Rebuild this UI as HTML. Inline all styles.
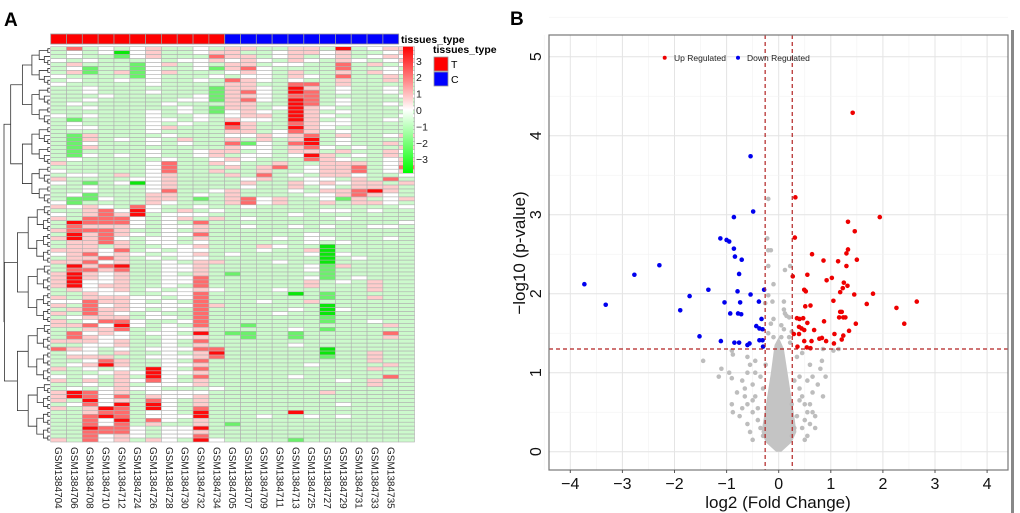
<!DOCTYPE html>
<html><head><meta charset="utf-8"><style>
html,body{margin:0;padding:0;background:#fff;}
svg{display:block;font-family:"Liberation Sans",Arial,sans-serif;}
</style></head><body>
<svg id="fig" width="1020" height="513" viewBox="0 0 1020 513" xmlns="http://www.w3.org/2000/svg">
<text x="4" y="26" font-size="19" font-weight="bold">A</text>
<text x="510" y="25" font-size="19" font-weight="bold">B</text>
<g id="heat"></g>
<g id="volc"></g>
<rect x="1011" y="30" width="3" height="483" fill="#888"/>
</svg>
<script>
const samples = ["GSM1384704","GSM1384706","GSM1384708","GSM1384710","GSM1384712","GSM1384724","GSM1384726","GSM1384728","GSM1384730","GSM1384732","GSM1384734","GSM1384705","GSM1384707","GSM1384709","GSM1384711","GSM1384713","GSM1384725","GSM1384727","GSM1384729","GSM1384731","GSM1384733","GSM1384735"];
const tissueTypes = ["T","T","T","T","T","T","T","T","T","T","T","C","C","C","C","C","C","C","C","C","C","C"];
const colorTicks = [3,2,1,0,-1,-2,-3];
const heatRows = [
"hrhwhwphhwh|pphhpphRhwpp","hwhwGwphhwp|phhwppwphhwp","hwhhgwphhhr|pphwphwphwpw","whwhhhwhwwp|wpwhpwhpwhwp",
"hphhhgwphwh|pphwwhhrhphw","hwghhgwhhwg|prwhhhhrhhwh","hpghpgwphhh|wpwhphhphpww","whhhhgwhhhw|hwwhpwhrhhph",
"hwhhwhwhhwh|rpwhwhhphhph","whhhhhwhhhh|pphhrrhphhhh","hhwhhhhhhhg|ppwhRphwhhwh","hhwhhhwhhhg|prwhRrhwhhwh",
"hhhwhhhhhwg|ppwhrrhhhhhw","hhwhhhhhwwg|prwhRrhwhhhh","hwhhhhhwhhh|pphhRrhwhhwh","hhwhhhhhwhg|pphwRpwhhhhw",
"hhhhhhwhwhg|wpwhRphwhhhh","whwhhhwhhwh|wpphRpwhhhhw","hghhhhwwhwh|pwwhRphwhhwh","hwhhhhwhwhh|Rphhrpwwhhhh",
"hwwhhhwphhh|rphhRpwhhhhh","hhhhhhwhhhh|pphwrphwhhhh","hgphhhhwhhh|wwpwprhphhwp","hgphwhwhphh|phphpRhwhhhh",
"hgwhhhwhwhh|rgwhrRhwhhph","hgphhhhhhhh|pwwhprwhwhhp","hghhhhwhhwp|phwhpphphhpw","hgwhwhwhhwp|hwwhwRphwhph",
"hwhhhhhwhhw|pwhhhrpwhhwp","phhhhhwrhhp|whhphhppphwp","hhhhhhwrhhh|phprhwpprhwr","whhhhhwrhhp|hhphhwpprhwp",
"hwwhphwphhh|phrhwhppwhhw","phhhhwwphhh|hwphhwwhphrh","whghwGwphhh|hphhpwpwpphp","hhwhhhwphhh|hwhhphwhppph",
"hhwhhhwrhhw|phhhwhpprRph","hwghhhpphwh|phhhhwwprpwh","hggwhhpphgh|prwphhwgphwp","wghhhhpwhhh|prwphhphppwh",
"pwpwhrwhhwh|hwhhhhhhhhhw","hhprwRwhphw|hhhhhhwwhwhh","whprpRhwwwh|hhhhwhhhhhhh","phrrrwhwphp|hwhhhhhwhhhh",
"hRrrrwhwhrh|hhhhhhhhhhhw","hrpppwhwwph|hwhhwhwhhwwh","prrrphhwhph|hhhhhhhhhhhh","hRprpwhwwrh|hhhhhwhhhhhh",
"pRprwhwwhph|hhhwhwwhhhwh","hpprphwwhwh|hhhhhwhwhhhh","hpphphhwwph|hhpwhhGhhhhh","pppwrhwhwwh|hhwhhpGhhhhh",
"wprwpwhwwph|whhhhwGwhhhh","hpprphwhwwh|hhhhhhGhwhhh","pprwphhwhpp|hhhwhhGhhhhh","hRprRhhwwph|hhhhhwgphhhh",
"hrrprhhwwph|hhhhhwghhhhh","pRpwphhwhph|ghhhhhghhhhh","pRpwphhwwrh|hhhhhwghwhhh","pRwwphhwwrh|hhhhhphwhphh",
"pRwpphhwhrh|hhhhhphhhphh","hpwwphwhwpw|hhhwhhhhhphh","hhpwwhhwwrh|hhhhGhghhhhh","phpppwwhwrh|hhhhhhghhphh",
"wwrppwhwhrh|hhwhhphhhhhh","phrwpwwwwrp|hhhhhhGhhhhh","hprppwhwhrh|hhhhwhGwhhhh","phrpwhwhhrh|hhhwhhGhhhhh",
"hwppphwwhrh|hhhhhhghhhhh","phwrrwhhwrh|hhhhhhghhwhh","pprwRwhwhrh|hghhhhhhhhph","hhpprhhwwph|hhhhwhghhhhh",
"hrwpwhwwhRh|gghhghhhhhrh","hrpwwhhwwph|hghhghhhhhph","pppwphhwhrh|hhhhhhhhhhhh","hhwwphhwhph|hhhhwhhhhhhh",
"rpwhwhwwwrr|hhhhhhGhhhhh","hwwhphhwhpR|hhhhhhGhhphh","hppphhwwwpr|hhhhhhghhphh","hhwrphhwhrh|hhhhhhhhhphh",
"hwpRphhwwph|hhhhhwhhhhph","phwhwhRwhrh|hhhhhhhhhphh","hhhwpwRwwph|hhhhhhhhhhhh","whwhphRwhrh|hhhhwhhhhhrh",
"phphpwrwhph|hhhhhhhwhphh","hhwhphwwwph|hhhhhhhhhphh","hwhwpwwhhhw|hhhhhhhhhhhh","pRrwphwwwwh|hhhhhhphhhhh",
"pRrwrhpwwph|hhhhhhhhhhhh","phRwphrwhph|hhhhhhhhhhhh","hwrwRhRwhph|hhhhhhhwhhhh","phpRrhRwhrh|hhhhhhhhhhhh",
"hhprrhwwhRh|hhhhRhhhhhhh","hhrRrhwwwRh|hhwhhwhwhhhh","hhrwRhrwhph|hhhhhhhhhhhh","hhrwrhphhph|ghhhhhhhhhhh",
"hhRrrwhwwRh|hhhhhhhhhhhh","hhrrrwhwwph|hhhhhhhhhhhh","hhrwpwhwwrh|hhhhhhhhhhhh","phrwphpwhRw|hhhhghhhhhhh"];
const levelCode = {G:-3,g:-2,h:-1,w:0,p:1,r:2,R:3};

const upX = [1.42,0.32,0.31,1.33,1.94,1.46,1.33,1.30,1.50,0.64,0.86,1.14,1.30,0.27,0.55,1.02,0.92,1.25,1.32,1.23,1.18,0.49,0.52,1.45,1.81,2.65,1.05,1.69,0.61,0.51,2.26,1.18,1.21,1.16,1.24,1.28,0.35,0.40,0.47,0.87,0.55,1.48,2.41,0.39,0.44,0.49,0.68,1.35,0.29,0.39,1.07,1.24,0.78,0.83,1.21,0.49,0.63,0.91,1.06,0.36,0.54,0.61];
const upY = [4.29,3.22,2.71,2.91,2.97,2.79,2.56,2.51,2.43,2.50,2.42,2.41,2.35,2.22,2.24,2.20,2.17,2.14,2.10,2.07,2.02,2.05,2.03,1.99,2.00,1.90,1.91,1.87,1.85,1.84,1.82,1.77,1.77,1.70,1.70,1.70,1.69,1.68,1.69,1.65,1.63,1.62,1.62,1.58,1.56,1.54,1.54,1.53,1.49,1.49,1.49,1.47,1.43,1.44,1.42,1.40,1.40,1.40,1.37,1.33,1.32,1.31];
const downX = [-3.73,-3.32,-2.77,-2.29,-1.89,-1.71,-1.52,-1.35,-1.12,-1.11,-1.04,-1.00,-0.95,-0.93,-0.86,-0.86,-0.85,-0.84,-0.79,-0.78,-0.76,-0.76,-0.74,-0.72,-0.71,-0.60,-0.56,-0.54,-0.54,-0.49,-0.43,-0.38,-0.37,-0.37,-0.33,-0.31,-0.31,-0.30,-0.28];
const downY = [2.12,1.86,2.24,2.36,1.79,1.97,1.46,2.05,2.70,1.40,1.89,2.68,2.66,1.75,2.97,2.57,1.38,2.47,2.03,1.75,2.25,1.38,1.89,1.74,2.43,1.35,1.37,1.99,3.74,3.04,1.59,1.90,1.56,1.41,1.68,1.55,1.41,1.33,2.05];
const nsX = [-0.2,-0.22,-0.2,-0.15,-0.2,0.12,0.22,-0.1,-0.2,-0.12,-0.26,0.1,0.1,0.12,0.15,0.2,-0.1,-0.15,0.05,0.1,0.25,-0.2,-0.1,0.05,0.2,0.22,-0.9,-0.88,-1.45,-1.1,-1.15,-0.95,-0.9,-0.6,-0.55,-0.6,-0.7,-0.8,-0.9,-0.88,-0.7,-0.6,-0.5,-0.45,-0.5,-0.35,-0.4,-0.35,-0.3,0.85,1.05,1.15,0.83,0.8,0.9,0.85,0.75,0.6,0.55,0.65,0.6,0.55,0.65,0.5,0.45,0.4,0.35,0.45,0.3,0.25,-0.25,-0.3,0.3,0.25,-0.6,0.45,-0.65,-0.5,-0.45,-0.55,-0.4,-0.5,0.5,0.55,0.6,0.7,0.5,0.35,0.4,-0.75,-0.65,0.7,0.65,0.4,-0.45];
const nsY = [3.2,2.7,2.55,2.55,2.35,2.3,2.35,2.12,1.98,1.9,1.88,1.9,1.8,1.75,1.72,1.7,1.68,1.62,1.6,1.55,1.52,1.5,1.45,1.45,1.45,1.38,1.28,1.23,1.15,1.05,0.95,1.0,0.93,1.2,1.1,1.0,0.9,0.75,0.6,0.5,0.55,0.6,0.5,0.7,0.85,0.95,0.4,0.3,0.2,1.3,1.28,1.3,1.15,1.05,0.95,0.7,0.85,1.1,0.9,0.75,0.6,0.5,0.5,0.4,0.7,0.95,1.2,1.25,0.3,0.2,1.1,0.8,0.9,0.6,0.35,0.3,0.8,0.65,1.0,0.25,0.55,0.15,0.15,0.2,0.35,0.45,0.6,0.45,0.65,0.45,0.7,0.3,0.95,0.8,1.15];
const coreX = [-0.05,0.05,0.25,0.34,0.3,0.24,0.17,0.1,0.0,-0.08,-0.15,-0.22,-0.28,-0.33,-0.25];
const coreY = [0,0,0.12,0.25,0.45,0.7,1.0,1.3,1.45,1.35,1.0,0.7,0.45,0.25,0.12];
const xTicks = [-4,-3,-2,-1,0,1,2,3,4];
const yTicks = [0,1,2,3,4,5];
const fcCut = 0.26, pCut = 1.3;

const NS = "http://www.w3.org/2000/svg";
function mk(tag, attrs, parent){const e=document.createElementNS(NS,tag);for(const k in attrs)e.setAttribute(k,attrs[k]);parent.appendChild(e);return e;}

const heat = document.getElementById('heat');
const hx0=50.7, hx1=398.7, hy0=46.7, hy1=442;
const cw=(hx1-hx0)/samples.length, rh=(hy1-hy0)/heatRows.length;
function heatColor(v){
 const a=Math.abs(v), t=Math.min(1, a<=1 ? a*0.2 : 0.2+(a-1)*0.38);
 const c=Math.round(255-t*255);
 if(v>=0) return `rgb(255,${c},${c})`;
 return `rgb(${c},${Math.round(255-t*25)},${c})`;
}
tissueTypes.forEach((t,i)=>{
 const r=mk('rect',{x:hx0+i*cw,y:34,width:cw,height:10,fill:t==='T'?'#ff0000':'#0000ff',stroke:'#999','stroke-width':0.8},heat);
 
 
});
heatRows.forEach((row,ri)=>{
 const s=row.replace('|','');
 for(let ci=0;ci<s.length;ci++){
  const r=mk('rect',{x:hx0+ci*cw,y:hy0+ri*rh,width:cw,height:rh,fill:heatColor(levelCode[s[ci]]),stroke:'#b0b0b0','stroke-width':0.6},heat);
  
  
 }
});
samples.forEach((s,i)=>{
 const cx=hx0+(i+0.5)*cw-3.5;
 const t=mk('text',{x:cx,y:447,'font-size':10,fill:'#222',transform:`rotate(90 ${cx} 447)`},heat);
 t.textContent=s;
 
 
});
function dendro(a,b){
 if(b-a===1) return {y:hy0+(a+0.5)*rh,x:50};
 let m = (a===0&&b===heatRows.length)?40:Math.floor((a+b)/2);
 const L=dendro(a,m), R=dendro(m,b);
 const x=Math.max(4, Math.min(L.x,R.x)-Math.max(2,Math.log2(b-a)*2.2));
 mk('path',{d:`M${L.x},${L.y}H${x}V${R.y}H${R.x}`,fill:'none',stroke:'#333','stroke-width':0.8},heat);
 return {y:(L.y+R.y)/2,x:x};
}
dendro(0,heatRows.length);
const cb=mk('g',{},heat);


const grad=mk('linearGradient',{id:'cbg',x1:0,y1:0,x2:0,y2:1},mk('defs',{},cb));
[['0','#ff0000'],['0.5','#ffffff'],['1','#00ff00']].forEach(s=>mk('stop',{offset:s[0],'stop-color':s[1]},grad));
mk('rect',{x:403,y:46.7,width:10,height:126.3,fill:'url(#cbg)'},cb);
colorTicks.forEach(v=>{
 const y=110-v*16.4;
 const t=mk('text',{x:416,y:y+4,'font-size':10.5,fill:'#222'},cb);
 t.textContent=v<0?'\u2212'+(-v):String(v);
 
 
});
const tt1=mk('text',{x:401,y:43,'font-size':10.5,'font-weight':'bold'},heat);tt1.textContent='tissues_type';


const tt2=mk('text',{x:433,y:53,'font-size':10.5,'font-weight':'bold'},heat);tt2.textContent='tissues_type';


[['T','#ff0000',57],['C','#0000ff',72]].forEach(l=>{
 const r=mk('rect',{x:434,y:l[2],width:14,height:14,fill:l[1],stroke:'#999','stroke-width':0.8},heat);
 
 
 const t=mk('text',{x:451,y:l[2]+11,'font-size':10.5},heat);t.textContent=l[0];
 
 
});

const volc=document.getElementById('volc');
const xS=v=>778.7+v*52.1, yS=v=>451.7-v*79;
const px0=549,px1=1008,py0=35,py1=470;
mk('rect',{x:px0,y:py0,width:px1-px0,height:py1-py0,fill:'#fff'},volc);
for(let v=-4.5;v<=4.5;v+=0.5){const maj=Number.isInteger(v);mk('line',{x1:xS(v),x2:xS(v),y1:py0,y2:py1,stroke:maj?'#e4e4e4':'#f2f2f2','stroke-width':maj?1:0.6},volc);}
for(let v=0;v<=5.5;v+=0.5){const maj=Number.isInteger(v);mk('line',{x1:px0,x2:px1,y1:yS(v),y2:yS(v),stroke:maj?'#e4e4e4':'#f2f2f2','stroke-width':maj?1:0.6},volc);}
const core=mk('polygon',{points:coreX.map((x,i)=>xS(x)+','+yS(coreY[i])).join(' '),fill:'#c4c4c4'},volc);


function pts(X,Y,col,name){X.forEach((x,i)=>{const c=mk('circle',{cx:xS(x),cy:yS(Y[i]),r:2.3,fill:col},volc);
 
 });}
pts(nsX,nsY,'#bdbdbd','ns-point');
pts(downX,downY,'#0000ee','down-point');
pts(upX,upY,'#ee0000','up-point');
[-fcCut,fcCut].forEach(v=>{const l=mk('line',{x1:xS(v),x2:xS(v),y1:py0,y2:py1,stroke:'#b22222','stroke-width':1.2,'stroke-dasharray':'4,3'},volc);
 
 });
const hl=mk('line',{x1:px0,x2:px1,y1:yS(pCut),y2:yS(pCut),stroke:'#b22222','stroke-width':1.2,'stroke-dasharray':'4,3'},volc);


mk('rect',{x:px0,y:py0,width:px1-px0,height:py1-py0,fill:'none',stroke:'#777','stroke-width':1.2},volc);
xTicks.forEach(v=>{mk('line',{x1:xS(v),x2:xS(v),y1:py1,y2:py1+3,stroke:'#555'},volc);
 const t=mk('text',{x:xS(v),y:489,'font-size':16,'text-anchor':'middle',fill:'#111'},volc);
 t.textContent=v<0?'\u2212'+(-v):String(v);
 
 });
yTicks.forEach(v=>{const x=541,y=yS(v);
 const t=mk('text',{x:x,y:y,'font-size':16,'text-anchor':'middle',fill:'#111',transform:`rotate(-90 ${x} ${y})`},volc);
 t.textContent=String(v);
 
 });
const xt=mk('text',{x:778,y:508,'font-size':17,'text-anchor':'middle',fill:'#111'},volc);xt.textContent='log2 (Fold Change)';


const yt=mk('text',{x:525,y:253,'font-size':17,'text-anchor':'middle',fill:'#111',transform:'rotate(-90 525 253)'},volc);yt.textContent='\u2212log10 (p-value)';


const lg=mk('g',{},volc);


mk('circle',{cx:664.7,cy:57.7,r:2,fill:'#ee0000'},lg);
const l1=mk('text',{x:674,y:61,'font-size':8.5,fill:'#222'},lg);l1.textContent='Up Regulated';


mk('circle',{cx:738,cy:57.7,r:2,fill:'#0000ee'},lg);
const l2=mk('text',{x:747,y:61,'font-size':8.5,fill:'#222'},lg);l2.textContent='Down Regulated';


</script>
</body></html>
